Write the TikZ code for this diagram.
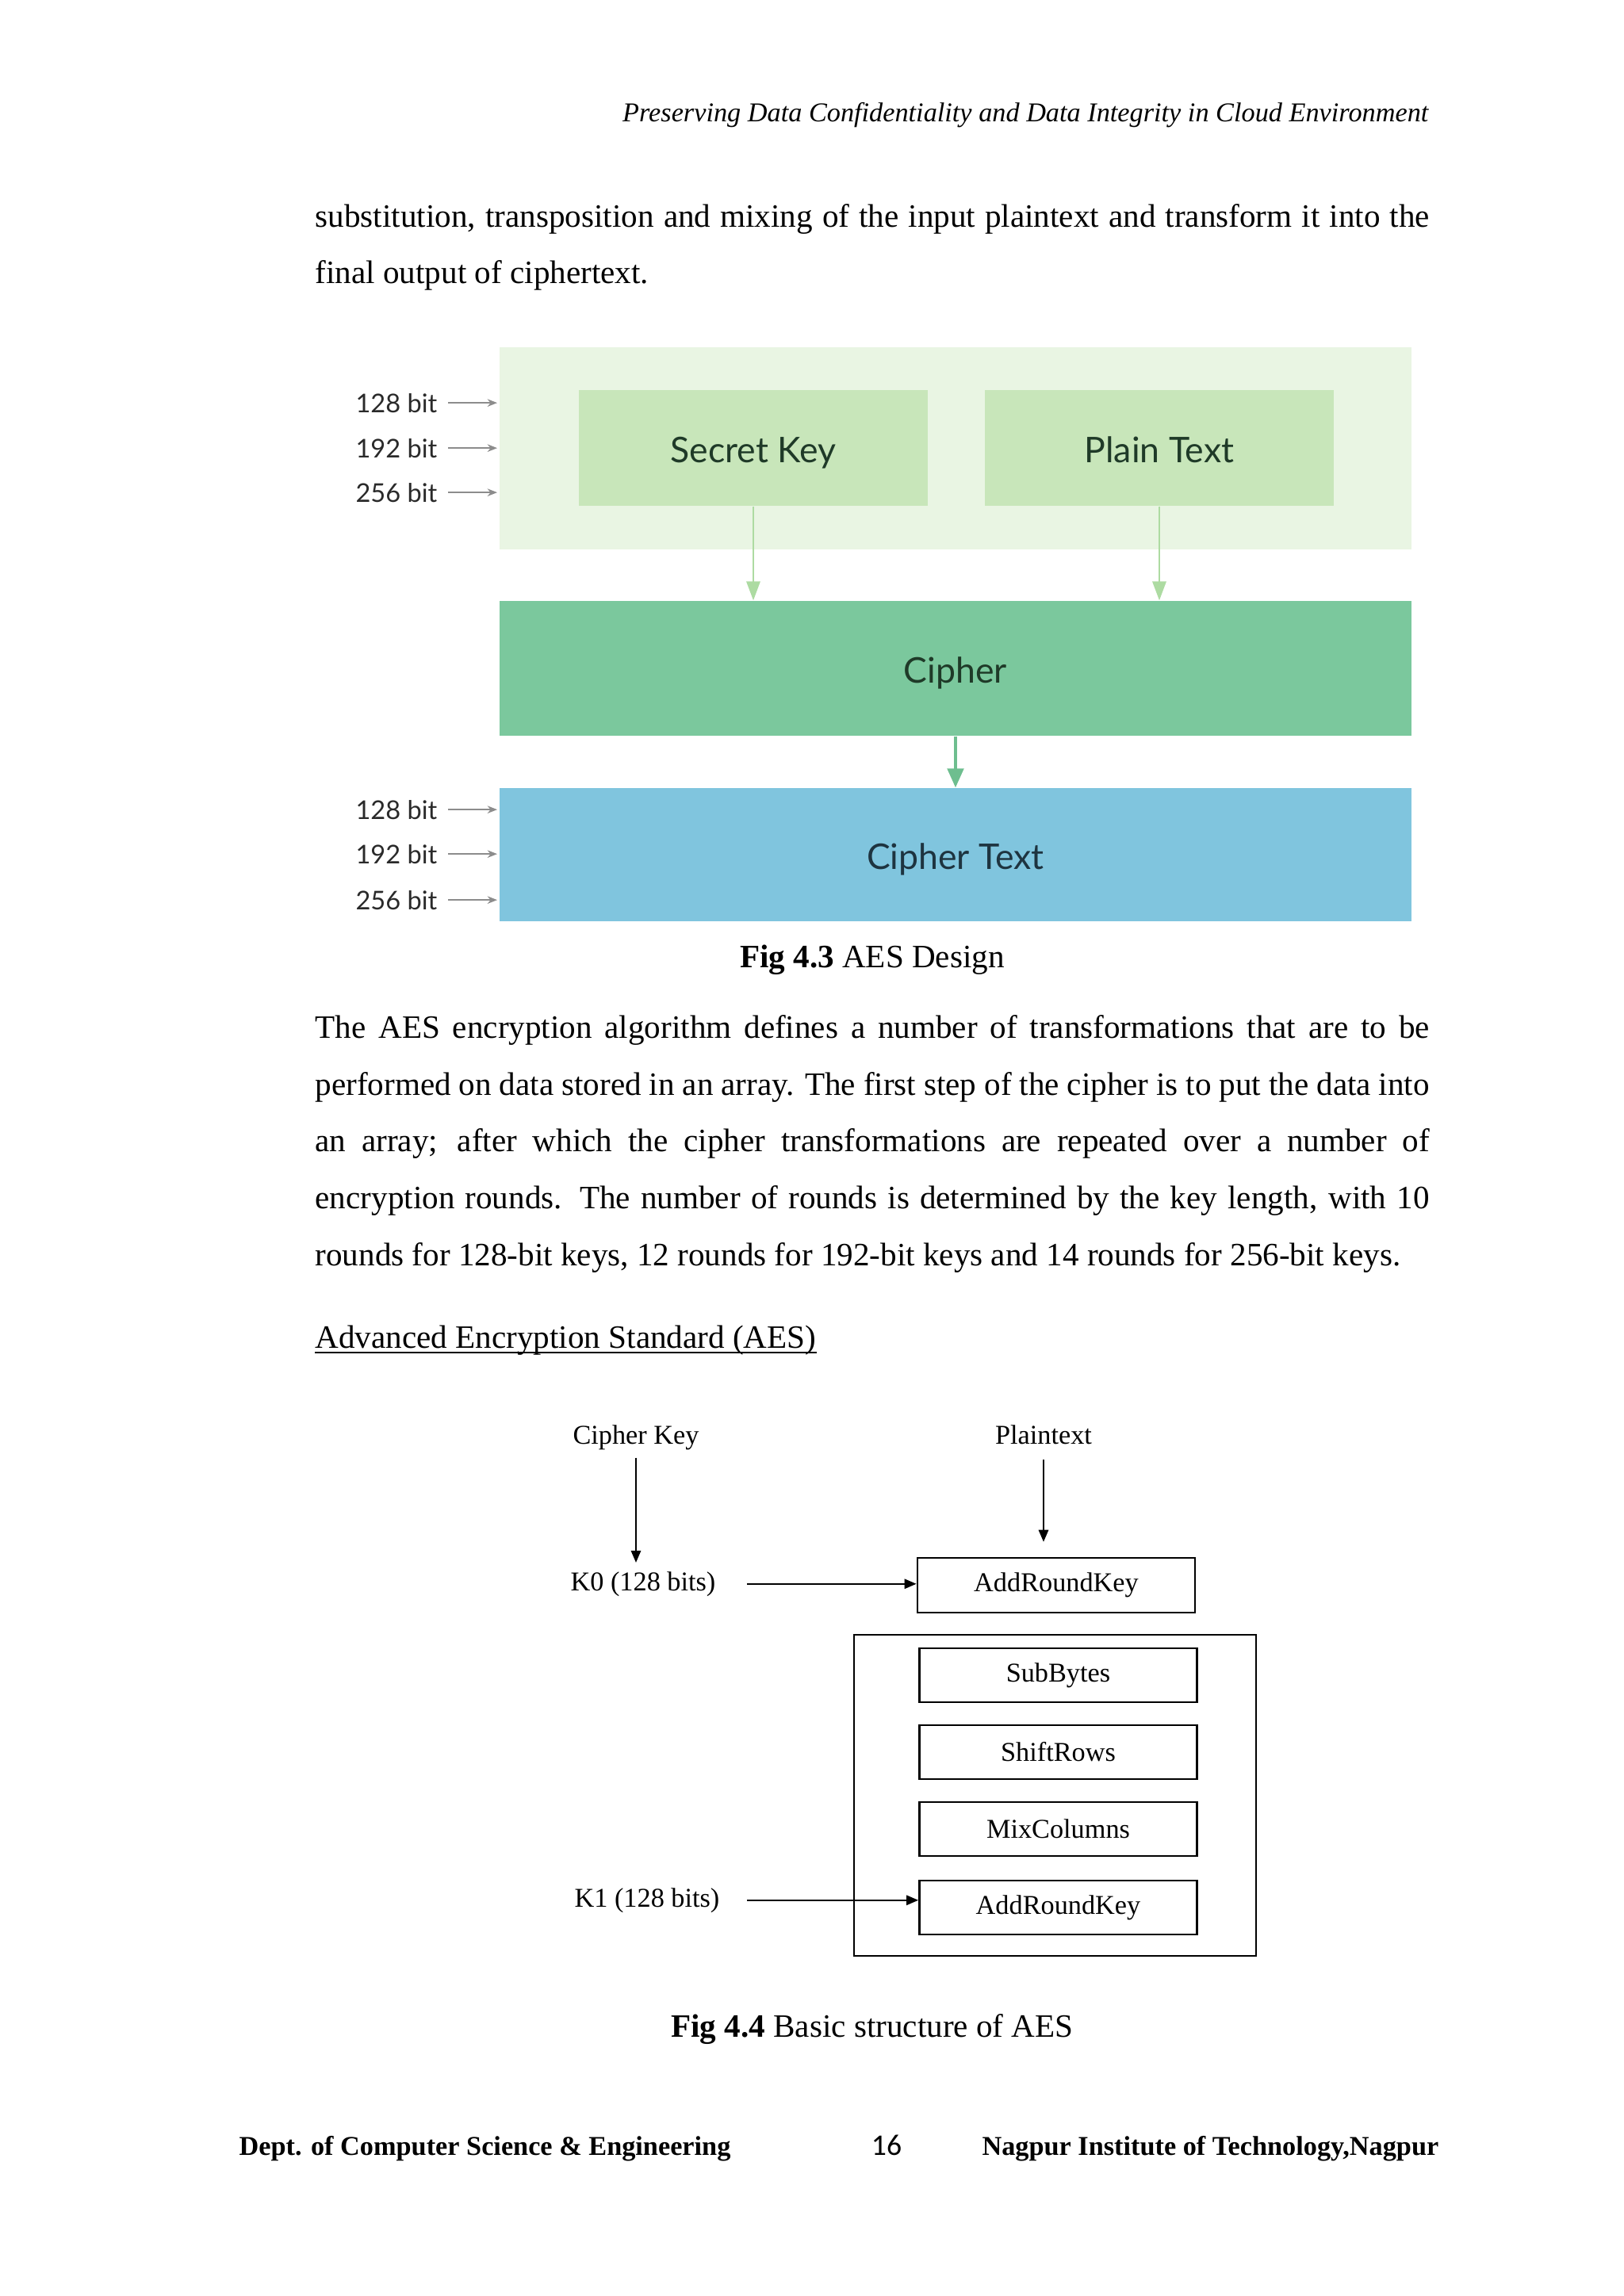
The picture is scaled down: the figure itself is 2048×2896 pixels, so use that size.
\documentclass[tikz,border=0pt]{standalone}
\usepackage{fontspec}
\setmainfont{Liberation Serif}
\newfontfamily\figsans{Lato}
\newfontfamily\numfont{Carlito}
\usetikzlibrary{arrows.meta,calc}
\definecolor{bgGreen}{HTML}{E9F5E3}
\definecolor{boxGreen}{HTML}{C8E6BA}
\definecolor{cipherGreen}{HTML}{7BC89D}
\definecolor{cipherBlue}{HTML}{80C5DE}
\definecolor{arrowLight}{HTML}{ADDBA2}
\definecolor{arrowMid}{HTML}{6EBE8F}
\definecolor{bitGray}{HTML}{8C8C8C}
\definecolor{labelDark}{HTML}{2A2A2A}
\definecolor{boxText}{HTML}{1F3A28}
\definecolor{ctText}{HTML}{1E3440}
\newcommand\pxu{0.1025390625mm}
\newlength\tw
\setlength\tw{144.07mm}
\begin{document}
\begin{tikzpicture}[x=0.1025390625mm, y=-0.1025390625mm,
  bodyl/.style={anchor=base west, inner sep=0, font=\fontsize{12}{14}\selectfont},
  bodyc/.style={anchor=base, inner sep=0, font=\fontsize{12}{14}\selectfont},
  hdr/.style={anchor=base east, inner sep=0, font=\fontsize{10}{12}\selectfont\itshape},
  foot/.style={inner sep=0, font=\fontsize{10}{12}\selectfont\bfseries},
  bitlbl/.style={anchor=base east, inner sep=0, text=labelDark, font=\figsans\fontsize{9.5}{11}\selectfont},
  bitarrow/.style={draw=bitGray, line width=0.45pt, shorten <=3.8pt, -{Stealth[length=3.6pt,width=2.8pt]}},
  greenbox/.style={fill=boxGreen, inner sep=0, minimum width=440*\pxu, minimum height=146*\pxu, text=boxText, text height=10.6pt, text depth=0pt, font=\figsans\fontsize{13}{15}\selectfont},
  widebox/.style={inner sep=0, minimum width=1150*\pxu, minimum height=170*\pxu, text height=11pt, text depth=0pt, font=\figsans\fontsize{13}{15}\selectfont},
  lightarrow/.style={draw=arrowLight, line width=0.8pt, -{Triangle[length=7pt,width=5pt]}},
  midarrow/.style={draw=arrowMid, line width=1pt, -{Triangle[length=7pt,width=6pt]}},
  lbltwo/.style={anchor=base, inner sep=0, font=\fontsize{10}{12}\selectfont},
  stepbox/.style={draw, line width=0.8pt, inner sep=0, minimum width=350*\pxu, minimum height=68*\pxu, font=\fontsize{10}{12}\selectfont},
  blkarrow/.style={line width=0.6pt, -{Triangle[length=4.4pt,width=3.6pt]}}
]
\path[use as bounding box, fill=white] (0,0) rectangle (2048,2896);

% header
\node[hdr] (hdr) at (1802,153) {Preserving Data Confidentiality and Data Integrity in Cloud Environment};

% paragraph 1
\node[bodyl] (p1a) at (397,286) {\makebox[\tw][s]{substitution, transposition and mixing of the input plaintext and transform it into the}};
\node[bodyl] (p1b) at (397,357) {final output of ciphertext.};

% Figure 4.3
\node[fill=bgGreen, inner sep=0, minimum width=1150*\pxu, minimum height=255*\pxu] (bg) at (1205,565.5) {};
\node[greenbox] (sk) at (950,565) {Secret Key};
\node[greenbox] (pt) at (1462,565) {Plain Text};
\node[widebox, fill=cipherGreen, text=boxText] (ci) at (1205,843) {Cipher};
\node[widebox, fill=cipherBlue, text=ctText, minimum height=168*\pxu] (ct) at (1205,1078) {Cipher Text};

\draw[lightarrow] (sk.south) -- (sk.south |- ci.north);
\draw[lightarrow] (pt.south) -- (pt.south |- ci.north);
\draw[midarrow] (ci.south) -- (ct.north);

\coordinate (bx) at (627,0);
\node[bitlbl] (ta) at (552,520) {128 bit};
\node[bitlbl] (tb) at (552,577) {192 bit};
\node[bitlbl] (tc) at (552,633) {256 bit};
\node[bitlbl] (ba) at (552,1033) {128 bit};
\node[bitlbl] (bb) at (552,1089) {192 bit};
\node[bitlbl] (bc) at (552,1147) {256 bit};
\foreach \n in {ta,tb,tc,ba,bb,bc}{
  \draw[bitarrow] (\n.east) -- (\n.east -| bx);
}

\node[bodyc] (cap1) at (1100,1220) {\textbf{Fig 4.3} AES Design};

% paragraph 2
\node[bodyl] (p2a) at (397,1309) {\makebox[\tw][s]{The AES encryption algorithm defines a number of transformations that are to be}};
\node[bodyl] (p2b) at (397,1381) {\makebox[\tw][s]{performed on data stored in an array. The first step of the cipher is to put the data into}};
\node[bodyl] (p2c) at (397,1452) {\makebox[\tw][s]{an array; after which the cipher transformations are repeated over a number of}};
\node[bodyl] (p2d) at (397,1524) {\makebox[\tw][s]{encryption rounds. The number of rounds is determined by the key length, with 10}};
\node[bodyl] (p2e) at (397,1596) {rounds for 128-bit keys, 12 rounds for 192-bit keys and 14 rounds for 256-bit keys.};

\node[bodyl] (adv) at (397,1700) {Advanced Encryption Standard (AES)};
\draw[line width=0.6pt] ($(adv.base west)+(0,6)$) -- ($(adv.base east)+(0,6)$);

% Figure 4.4
\node[lbltwo] (ck) at (802,1821) {Cipher Key};
\node[lbltwo] (ptx) at (1316,1821) {Plaintext};
\node[lbltwo] (k0) at (811,2006) {K0 (128 bits)};
\node[lbltwo] (k1) at (816,2405) {K1 (128 bits)};
\node[stepbox, minimum height=69*\pxu] (ark0) at (1332,1999.5) {AddRoundKey};
\node[draw, line width=0.8pt, inner sep=0, minimum width=507*\pxu, minimum height=405*\pxu] (rnd) at (1330.5,2264.5) {};
\node[stepbox] (sb) at (1334.5,2113) {SubBytes};
\node[stepbox] (sr) at (1334.5,2210) {ShiftRows};
\node[stepbox] (mc) at (1334.5,2307) {MixColumns};
\node[stepbox] (ark1) at (1334.5,2406) {AddRoundKey};

\draw[blkarrow, shorten <=2.8pt, shorten >=3.1pt] (ck.south) -- (ck.south |- k0.north);
\draw[blkarrow, shorten <=5.5pt, shorten >=5.5pt] (ptx.south) -- (ptx.south |- ark0.north);
\draw[blkarrow, shorten <=11.3pt] (k0.east) -- (k0.east -| ark0.west);
\draw[blkarrow, shorten <=10pt] (k1.east) -- (k1.east -| ark1.west);

\node[bodyc] (cap2) at (1100,2569) {\textbf{Fig 4.4} Basic structure of AES};

% footer
\node[foot, anchor=base west] (fl) at (301,2718) {Dept. of Computer Science \& Engineering};
\node[anchor=base, inner sep=0, font=\numfont\fontsize{11}{13}\selectfont] (pg) at (1118,2718) {16};
\node[foot, anchor=base east] (fr) at (1815,2718) {Nagpur Institute of Technology,Nagpur};
\end{tikzpicture}
\end{document}
